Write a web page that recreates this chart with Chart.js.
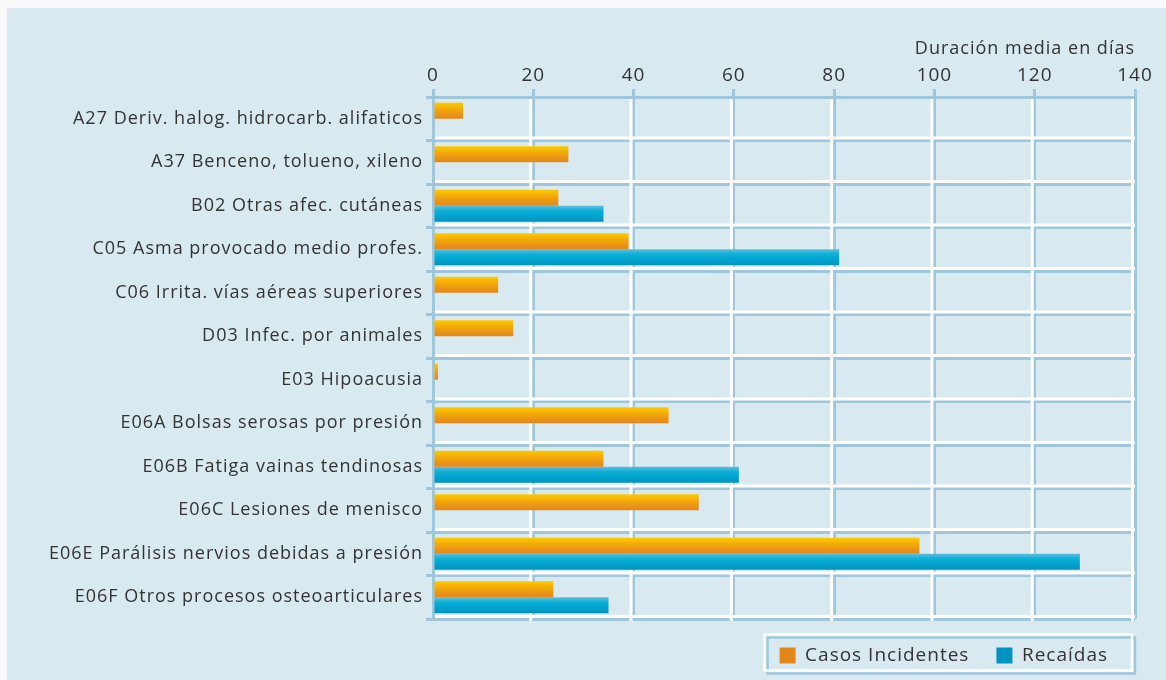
<!DOCTYPE html>
<html>
<head>
<meta charset="utf-8">
<script src="https://cdn.jsdelivr.net/npm/chart.js@4"></script>
<style>
  body { margin: 0; background: #fafafa; }
</style>
</head>
<body>
<canvas id="duracionChart" width="1166" height="680"></canvas>
<script>
const categories = [
    'A27 Deriv. halog. hidrocarb. alifaticos',
    'A37 Benceno, tolueno, xileno',
    'B02 Otras afec. cutáneas',
    'C05 Asma provocado medio profes.',
    'C06 Irrita. vías aéreas superiores',
    'D03 Infec. por animales',
    'E03 Hipoacusia',
    'E06A Bolsas serosas por presión',
    'E06B Fatiga vainas tendinosas',
    'E06C Lesiones de menisco',
    'E06E Parálisis nervios debidas a presión',
    'E06F Otros procesos osteoarticulares'
];
const casosIncidentes = [6, 27, 25, 39, 13, 16, 1, 47, 34, 53, 97, 24];
const recaidas = [null, null, 34, 81, null, null, null, null, 61, null, 129, 35];
const seriesNames = ['Casos Incidentes', 'Recaídas'];
const axisMax = 140;
const axisStep = 20;
const axisTitle = 'Duración media en días';

const FONT = '"Open Sans", sans-serif';
const TEXT = '#333333';
const PANEL = '#d9e9f0';
const GRID_BLUE = '#9fc7db';
const CAT_PCT = 0.74;

const orangeStops = ['#fdcb00', '#f6b205', '#ec9914', '#e4871b'];
const blueStops = ['#62bbdc', '#0db0d6', '#00a3ce', '#0093bf'];

// vertical gradient spanning just the bar it fills
function barFill(context) {
    const stops = context.datasetIndex === 0 ? orangeStops : blueStops;
    const chart = context.chart;
    const y = chart.scales.y;
    if (context.dataIndex === undefined || !y || !y.height) return stops[2];
    const c = y.getPixelForValue(context.dataIndex);
    const h = y.height / categories.length * CAT_PCT / 2;
    const top = context.datasetIndex === 0 ? c - h : c;
    const g = chart.ctx.createLinearGradient(0, top, 0, top + h);
    g.addColorStop(0, stops[0]);
    g.addColorStop(0.3, stops[1]);
    g.addColorStop(0.65, stops[2]);
    g.addColorStop(1, stops[3]);
    return g;
}

// slightly tracked-out lettering for every label
const spacedText = {
    id: 'spacedText',
    beforeUpdate(chart) { chart.ctx.letterSpacing = '1px'; },
    beforeDraw(chart) { chart.ctx.letterSpacing = '1px'; }
};

const panelBackground = {
    id: 'panelBackground',
    beforeDraw(chart) {
        const ctx = chart.ctx;
        ctx.save();
        ctx.fillStyle = '#fafafa';
        ctx.fillRect(0, 0, chart.width, chart.height);
        ctx.fillStyle = PANEL;
        ctx.fillRect(7, 8, chart.width - 7, chart.height - 8);

        // framed box behind the legend
        const boxes = chart.legend && chart.legend.legendHitBoxes;
        if (boxes && boxes.length) {
            const left = boxes[0].left - 15;
            const right = chart.legend.right - 3;
            const mid = boxes[0].top + boxes[0].height / 2;
            const top = mid - 21, bottom = mid + 15;
            ctx.lineWidth = 2.5;
            ctx.strokeStyle = GRID_BLUE;
            ctx.strokeRect(left + 3, top + 3, right - left, bottom - top);
            ctx.strokeStyle = '#ffffff';
            ctx.strokeRect(left, top, right - left, bottom - top);
        }
        ctx.restore();
    }
};

// white highlight next to each blue grid line
const gridRelief = {
    id: 'gridRelief',
    beforeDatasetsDraw(chart) {
        const {ctx, chartArea: a, scales: {x, y}} = chart;
        ctx.save();
        ctx.strokeStyle = '#ffffff';
        ctx.lineWidth = 3;
        ctx.beginPath();
        x.ticks.forEach((t, i) => {
            if (i === 0) return;
            const px = x.getPixelForValue(t.value) - 2.5;
            ctx.moveTo(px, a.top + 2);
            ctx.lineTo(px, a.bottom + 2);
        });
        for (let i = 1; i <= categories.length; i++) {
            const py = y.getPixelForValue(i - 0.5) - 2.5;
            ctx.moveTo(a.left + 2, py);
            ctx.lineTo(a.right, py);
        }
        ctx.stroke();
        ctx.restore();
    }
};

const ctx = document.getElementById('duracionChart').getContext('2d');
new Chart(ctx, {
    type: 'bar',
    data: {
        labels: categories,
        datasets: [{
            label: seriesNames[0],
            data: casosIncidentes,
            backgroundColor: barFill,
            borderWidth: 0,
            categoryPercentage: CAT_PCT,
            barPercentage: 1
        }, {
            label: seriesNames[1],
            data: recaidas,
            backgroundColor: barFill,
            borderWidth: 0,
            categoryPercentage: CAT_PCT,
            barPercentage: 1
        }]
    },
    options: {
        indexAxis: 'y',
        responsive: false,
        animation: false,
        layout: {
            padding: { top: 8, right: 31, bottom: 5, left: 0 }
        },
        scales: {
            x: {
                position: 'top',
                min: 0,
                max: axisMax,
                afterFit: scale => { scale.height = 89; },
                ticks: {
                    stepSize: axisStep,
                    color: TEXT,
                    padding: 2,
                    font: { family: FONT, size: 19 }
                },
                grid: {
                    color: GRID_BLUE,
                    lineWidth: 3,
                    tickLength: 8
                },
                border: { color: GRID_BLUE, width: 3 },
                title: {
                    display: true,
                    text: axisTitle,
                    align: 'end',
                    color: TEXT,
                    font: { family: FONT, size: 18 },
                    padding: { top: 30, bottom: 0 }
                }
            },
            y: {
                afterFit: scale => { scale.width = 433; },
                ticks: {
                    color: TEXT,
                    padding: 3,
                    font: { family: FONT, size: 18 }
                },
                grid: {
                    offset: true,
                    color: GRID_BLUE,
                    lineWidth: 3,
                    tickLength: 7
                },
                border: { color: GRID_BLUE, width: 3 }
            }
        },
        plugins: {
            legend: {
                position: 'bottom',
                align: 'end',
                labels: {
                    color: TEXT,
                    boxWidth: 16,
                    boxHeight: 16,
                    padding: 27,
                    font: { family: FONT, size: 19 }
                }
            },
            tooltip: { enabled: false }
        }
    },
    plugins: [spacedText, panelBackground, gridRelief]
});
</script>
</body>
</html>
